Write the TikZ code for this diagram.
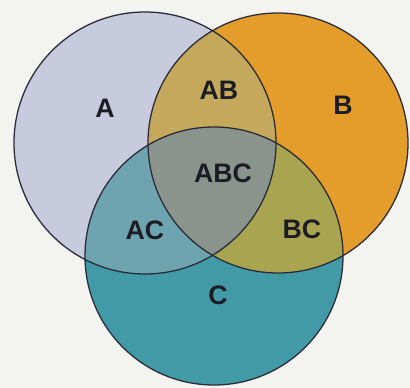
\documentclass[tikz,border=0pt]{standalone}
\usepackage{fontspec}
\setmainfont{Liberation Sans}
\usepackage{tikz}

\definecolor{paper}{RGB}{243,243,240}
\definecolor{edge}{RGB}{40,42,55}
\definecolor{ink}{RGB}{28,28,36}
\definecolor{colA}{RGB}{200,202,222}
\definecolor{colB}{RGB}{228,156,42}
\definecolor{colC}{RGB}{66,154,166}
\definecolor{colAB}{RGB}{196,168,92}
\definecolor{colAC}{RGB}{110,164,176}
\definecolor{colBC}{RGB}{168,164,80}
\definecolor{colABC}{RGB}{138,148,140}

\begin{document}
\begin{tikzpicture}[
    x=0.025cm, y=-0.025cm,
    set/.style={draw=edge, line width=0.9pt},
    lbl/.style={font=\fontsize{19}{22}\selectfont\bfseries, text=ink}
]
\fill[paper] (0,0) rectangle (410,388);

\coordinate (a) at (145,143);
\coordinate (b) at (278,143);
\coordinate (c) at (214,256);

% single sets
\fill[colA] (a) circle[radius=131];
\fill[colB] (b) circle[radius=130];
\fill[colC] (c) circle[radius=129];

% overlaps
\begin{scope}
  \clip (a) circle[radius=131];
  \fill[colAB] (b) circle[radius=130];
  \fill[colAC] (c) circle[radius=129];
\end{scope}
\begin{scope}
  \clip (b) circle[radius=130];
  \fill[colBC] (c) circle[radius=129];
  \clip (a) circle[radius=131];
  \fill[colABC] (c) circle[radius=129];
\end{scope}

% outlines
\draw[set] (a) circle[radius=131];
\draw[set] (b) circle[radius=130];
\draw[set] (c) circle[radius=129];

\node[lbl] (la) at (105,108) {A};
\node[lbl] (lab) at (219,90) {AB};
\node[lbl] (lb) at (343,105) {B};
\node[lbl] (labc) at (223,173) {ABC};
\node[lbl] (lac) at (145,230) {AC};
\node[lbl] (lbc) at (302,229) {BC};
\node[lbl] (lc) at (218,295) {C};
\end{tikzpicture}
\end{document}
